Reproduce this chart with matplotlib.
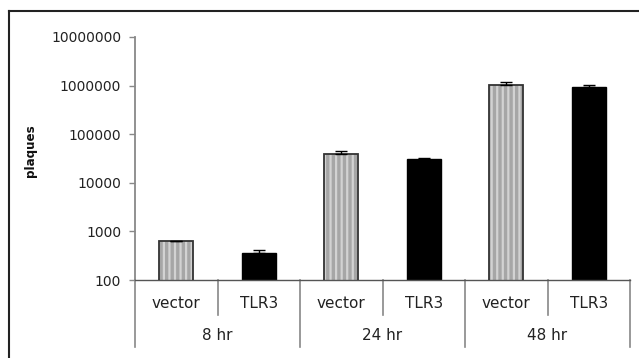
import numpy as np
import matplotlib
matplotlib.use('Agg')
from matplotlib import pyplot as plt
from matplotlib.lines import Line2D

# data
groups = ['8 hr', '24 hr', '48 hr']
subcats = ['vector', 'TLR3']
vector_vals = [630, 40000, 1050000]
vector_err = [15, 5500, 120000]
tlr3_vals = [360, 31000, 920000]
tlr3_err = [55, 1200, 110000]

plt.rcParams['font.family'] = 'DejaVu Sans'
plt.rcParams['hatch.linewidth'] = 1.6
plt.rcParams['hatch.color'] = '#d2d2d2'

fig = plt.figure(figsize=(6.39, 3.58), dpi=100)
ax = fig.add_axes([135 / 639, 1 - 280 / 358, (630 - 135) / 639, (280 - 37) / 358])

n = len(groups) * len(subcats)
pos_vec = np.arange(len(groups)) * 2 + 0.5
pos_tlr = np.arange(len(groups)) * 2 + 1.5
width = 0.41

# vector bars: gray with light vertical stripes, dark outline
ax.bar(pos_vec, vector_vals, width, bottom=0, color='#a6a6a6', hatch='|||', linewidth=0, zorder=2)
ax.bar(pos_vec, vector_vals, width, bottom=0, facecolor='none', edgecolor='#333333', linewidth=1.3, zorder=3)
ax.bar(pos_tlr, tlr3_vals, width, bottom=0, color='black', edgecolor='black', linewidth=1, zorder=2)

ax.errorbar(pos_vec, vector_vals, yerr=[np.zeros(3), vector_err], fmt='none', ecolor='black',
            elinewidth=1, capsize=4, capthick=1, zorder=4)
ax.errorbar(pos_tlr, tlr3_vals, yerr=[np.zeros(3), tlr3_err], fmt='none', ecolor='black',
            elinewidth=1, capsize=4, capthick=1, zorder=4)

ax.set_yscale('log')
ax.set_ylim(100, 1e7)
ax.set_xlim(0, n)
ax.set_yticks([100, 1000, 10000, 100000, 1000000, 10000000])
ax.set_yticklabels(['100', '1000', '10000', '100000', '1000000', '10000000'])
ax.yaxis.set_minor_locator(matplotlib.ticker.NullLocator())
ax.tick_params(axis='y', length=4, width=1, color='#888888', labelsize=10, pad=6, labelcolor='#222222')
ax.set_xticks([])

for s in ['top', 'right']:
    ax.spines[s].set_visible(False)
ax.spines['left'].set_color('#888888')
ax.spines['left'].set_linewidth(1.3)
ax.spines['bottom'].set_color('#555555')
ax.spines['bottom'].set_linewidth(1)

fig.text(31 / 639, 1 - 151 / 358, 'plaques', rotation=90, ha='center', va='center',
         fontsize=8.6, fontweight='bold', color='#111111')

# category axis table below the plot
ax_h = (280 - 37)
row1 = -(315 - 280) / ax_h
row2 = -(347 - 280) / ax_h
txt1 = -(303 - 280) / ax_h
txt2 = -(336 - 280) / ax_h
for i in range(n + 1):
    x = i / n
    y_end = row2 if i % 2 == 0 else row1
    ax.add_line(Line2D([x, x], [0, y_end], transform=ax.transAxes, color='#888888',
                       lw=1.2, clip_on=False))
for i in range(n):
    ax.text((i + 0.5) / n, txt1, subcats[i % 2], transform=ax.transAxes, ha='center', va='center',
            fontsize=11, color='#222222')
for g, name in enumerate(groups):
    ax.text((2 * g + 1) / n, txt2, name, transform=ax.transAxes, ha='center', va='center',
            fontsize=11, color='#222222')

# outer chart frame (right and bottom edges are cut off in the reference)
fig.add_artist(Line2D([9 / 639, 9 / 639], [0, 1 - 11 / 358], color='#222222', lw=1.5))
fig.add_artist(Line2D([9 / 639, 1], [1 - 11 / 358, 1 - 11 / 358], color='#222222', lw=1.5))

fig.savefig('out.png', dpi=100)
